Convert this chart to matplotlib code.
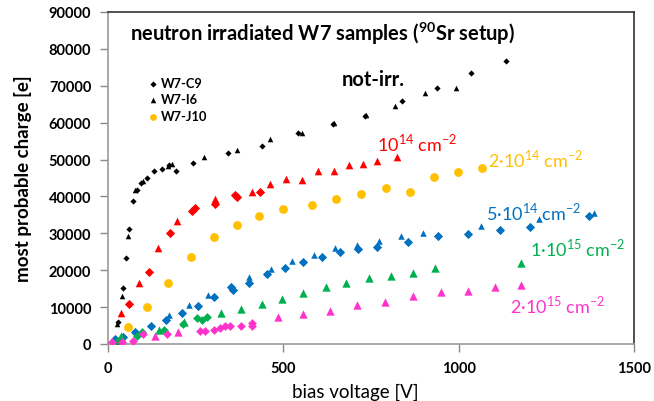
import matplotlib
matplotlib.use("Agg")
import matplotlib.pyplot as plt

# ---------------- data (V, charge) ----------------
# not irradiated
c9_v = [25, 28, 43, 51, 60, 71, 83, 94, 111, 131, 154, 174, 194, 242, 342, 439, 541, 641, 732, 838, 937, 1034, 1134]
c9_q = [500, 6000, 15200, 23300, 31200, 38800, 41700, 43600, 45000, 46900, 47400, 48500, 46900, 49100, 51800, 53700, 57200, 59600, 61800, 65900, 69400, 73500, 76700]
i6_v = [26, 40, 57, 77, 100, 170, 182, 274, 368, 462, 553, 645, 735, 818, 903, 991]
i6_q = [5400, 13000, 29300, 41700, 44200, 48200, 48800, 50700, 52600, 55600, 57200, 59800, 62200, 64500, 68000, 69400]

# 1e14
r_tri_v = [37, 88, 142, 197, 305, 410, 462, 507, 553, 598, 644, 687, 726, 766, 823]
r_tri_q = [8400, 16500, 26000, 33300, 39300, 41200, 43400, 44700, 44500, 46900, 46900, 48500, 48800, 49600, 50700]
r_dia_v = [60, 117, 177, 239, 248, 305, 362, 368, 433]
r_dia_q = [10800, 19500, 30100, 36100, 36900, 38000, 40400, 39800, 41200]

# 2e14 (W7-J10)
o_v = [57, 111, 171, 236, 302, 368, 430, 499, 581, 650, 721, 792, 860, 929, 997, 1066]
o_q = [4600, 10000, 16500, 23600, 29000, 32300, 34700, 36600, 37700, 39300, 40700, 42300, 41200, 45300, 46600, 47700]

# 5e14
b_dia_v = [20, 43, 77, 123, 165, 211, 256, 302, 350, 356, 402, 453, 504, 556, 610, 661, 712, 766, 855, 940, 1028, 1117, 1202, 1373]
b_dia_q = [1400, 1900, 3300, 4900, 6500, 8400, 10300, 12700, 15500, 14600, 16500, 19000, 20600, 22200, 23600, 24900, 25800, 26300, 27700, 29300, 29800, 30900, 31700, 34700]
b_tri_v = [174, 231, 285, 402, 464, 524, 587, 647, 709, 772, 835, 897, 1063, 1228, 1385]
b_tri_q = [7900, 10600, 13300, 18200, 20300, 22500, 24100, 26000, 26800, 27900, 29300, 30100, 32000, 33900, 35500]

# 1e15
g_dia_v = [28, 83, 97, 160, 214, 254, 268, 282]
g_dia_q = [800, 2200, 3300, 3800, 5400, 7000, 6500, 7300]
g_tri_v = [37, 145, 217, 322, 379, 439, 496, 556, 621, 678, 744, 806, 869, 932, 1179]
g_tri_q = [2200, 3800, 6000, 8400, 9500, 10800, 12200, 13800, 15500, 16500, 17900, 18400, 19200, 20600, 22000]

# 2e15
m_dia_v = [11, 40, 71, 100, 168, 262, 276, 302, 319, 333, 348, 379, 410, 410]
m_dia_q = [500, 500, 800, 2700, 2700, 3500, 3500, 3800, 4300, 4900, 4900, 4900, 4900, 5700]
m_tri_v = [134, 199, 484, 556, 632, 709, 789, 869, 949, 1026, 1105, 1179]
m_tri_q = [2200, 3300, 7300, 8100, 8900, 10600, 11400, 13000, 14100, 14400, 15500, 16000]

x_ticks = [0, 500, 1000, 1500]
y_ticks = [0, 10000, 20000, 30000, 40000, 50000, 60000, 70000, 80000, 90000]

RED = '#FF0000'
ORANGE = '#FFC000'
BLUE = '#0070C0'
GREEN = '#00B050'
MAGENTA = '#FF33CC'

plt.rcParams['font.family'] = ['Lato', 'DejaVu Sans']
plt.rcParams['mathtext.fontset'] = 'custom'
plt.rcParams['mathtext.rm'] = 'Lato'
plt.rcParams['mathtext.bf'] = 'Lato:bold'

fig = plt.figure(figsize=(6.54, 4.02), dpi=100)
ax = fig.add_axes([108/654, 57/402, 526/654, 332/402])

ax.scatter(c9_v, c9_q, marker='D', s=10, color='black', linewidths=0, label='W7-C9', zorder=3)
ax.scatter(i6_v, i6_q, marker='^', s=16, color='black', linewidths=0, label='W7-I6', zorder=3)
ax.scatter(o_v, o_q, marker='o', s=40, color=ORANGE, linewidths=0, label='W7-J10', zorder=3)

ax.scatter(r_tri_v, r_tri_q, marker='^', s=30, color=RED, linewidths=0, zorder=3)
ax.scatter(r_dia_v, r_dia_q, marker='D', s=22, color=RED, linewidths=0, zorder=3)
ax.scatter(b_dia_v, b_dia_q, marker='D', s=22, color=BLUE, linewidths=0, zorder=3)
ax.scatter(b_tri_v, b_tri_q, marker='^', s=22, color=BLUE, linewidths=0, zorder=3)
ax.scatter(g_dia_v, g_dia_q, marker='D', s=20, color=GREEN, linewidths=0, zorder=3)
ax.scatter(g_tri_v, g_tri_q, marker='^', s=36, color=GREEN, linewidths=0, zorder=3)
ax.scatter(m_dia_v, m_dia_q, marker='D', s=20, color=MAGENTA, linewidths=0, zorder=3)
ax.scatter(m_tri_v, m_tri_q, marker='^', s=36, color=MAGENTA, linewidths=0, zorder=3)

ax.set_xlim(0, 1500)
ax.set_ylim(0, 90000)
ax.set_xticks(x_ticks)
ax.set_yticks(y_ticks)
ax.set_xticklabels([str(t) for t in x_ticks], fontweight='bold', fontsize=10.5)
ax.set_yticklabels([str(t) for t in y_ticks], fontweight='bold', fontsize=10.5)
ax.tick_params(axis='both', direction='out', length=6, width=1, color='#888888', pad=6)

for s in ['left', 'bottom']:
    ax.spines[s].set_color('#999999')
    ax.spines[s].set_linewidth(1.2)
for s in ['top', 'right']:
    ax.spines[s].set_color('#333333')
    ax.spines[s].set_linewidth(1.2)

ax.set_xlabel('bias voltage [V]', fontsize=13.5)
ax.xaxis.set_label_coords(0.47, -0.115)
ax.set_ylabel('most probable charge [e]', fontsize=13.5, fontweight='bold')
ax.yaxis.set_label_coords(-0.145, 0.5)

ax.text(63, 84400, r'neutron irradiated W7 samples ($\mathbf{^{90}}$Sr setup)',
        fontsize=14.5, fontweight='bold', va='center', ha='left')

leg = ax.legend(loc='upper left', bbox_to_anchor=(0.063, 0.82), frameon=False,
                prop={'weight': 'bold', 'size': 9.3}, handletextpad=0.05,
                labelspacing=0.35, borderaxespad=0, handlelength=1.1)
leg.legend_handles[0].set_sizes([10])
leg.legend_handles[1].set_sizes([16])
leg.legend_handles[2].set_sizes([24])

ax.text(667, 71800, 'not-irr.', fontsize=14.5, fontweight='bold', va='center', ha='left')
ax.text(766, 54600, r'10$^{14}$ cm$^{-2}$', fontsize=13, color=RED, va='center', ha='left')
ax.text(1083, 50500, r'2·10$^{14}$ cm$^{-2}$', fontsize=13, color=ORANGE, va='center', ha='left')
ax.text(1077, 36000, r'5·10$^{14}$ cm$^{-2}$', fontsize=13, color=BLUE, va='center', ha='left')
ax.text(1202, 26200, r'1·10$^{15}$ cm$^{-2}$', fontsize=13, color=GREEN, va='center', ha='left')
ax.text(1145, 10700, r'2·10$^{15}$ cm$^{-2}$', fontsize=13, color=MAGENTA, va='center', ha='left')

fig.savefig('out.png', dpi=100)
